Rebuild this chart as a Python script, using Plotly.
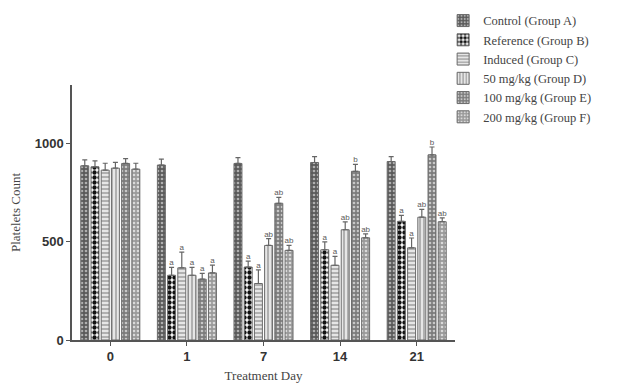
import plotly.graph_objects as go

days = ["0", "1", "7", "14", "21"]
groups = ["Control (Group A)", "Reference (Group B)", "Induced (Group C)",
          "50 mg/kg (Group D)", "100 mg/kg (Group E)", "200 mg/kg (Group F)"]

control = [888, 892, 900, 905, 910]
reference = [883, 330, 372, 460, 605]
induced = [866, 368, 288, 381, 470]
mg50 = [876, 330, 482, 562, 626]
mg100 = [900, 310, 697, 860, 944]
mg200 = [871, 342, 457, 521, 603]

err_control = [30, 30, 30, 30, 25]
err_reference = [30, 40, 30, 40, 30]
err_induced = [35, 80, 70, 45, 50]
err_mg50 = [30, 40, 35, 40, 40]
err_mg100 = [25, 30, 30, 35, 40]
err_mg200 = [30, 40, 25, 20, 20]

letters_control = ["", "", "", "", ""]
letters_reference = ["", "a", "a", "a", "a"]
letters_induced = ["", "a", "a", "a", "a"]
letters_mg50 = ["", "a", "ab", "ab", "ab"]
letters_mg100 = ["", "a", "ab", "b", "b"]
letters_mg200 = ["", "a", "ab", "ab", "ab"]

values = [control, reference, induced, mg50, mg100, mg200]
errors = [err_control, err_reference, err_induced, err_mg50, err_mg100, err_mg200]
letters = [letters_control, letters_reference, letters_induced, letters_mg50,
           letters_mg100, letters_mg200]

styles = [
    dict(shape=".", bgcolor="#5a5a5a", fgcolor="#b0b0b0", size=4, solidity=0.35),
    dict(shape=".", bgcolor="#ffffff", fgcolor="#111111", size=5, solidity=0.6),
    dict(shape="-", bgcolor="#b0b0b0", fgcolor="#f4f4f4", size=4, solidity=0.4),
    dict(shape="|", bgcolor="#b0b0b0", fgcolor="#f4f4f4", size=4, solidity=0.4),
    dict(shape=".", bgcolor="#7c7c7c", fgcolor="#c8c8c8", size=4, solidity=0.35),
    dict(shape=".", bgcolor="#9a9a9a", fgcolor="#dadada", size=4, solidity=0.35),
]

fig = go.Figure()
for i, g in enumerate(groups):
    st = styles[i]
    fig.add_trace(go.Bar(
        x=days, y=values[i], name=g, offsetgroup=str(i),
        marker=dict(color=st["bgcolor"], line=dict(color="#6a6a6a", width=1),
                    pattern=dict(shape=st["shape"], bgcolor=st["bgcolor"],
                                 fgcolor=st["fgcolor"], size=st["size"],
                                 solidity=st["solidity"], fillmode="replace")),
        error_y=dict(type="data", array=errors[i], arrayminus=[0]*5, symmetric=False,
                     color="#666666", thickness=1.2, width=2.5),
    ))
for i, g in enumerate(groups):
    fig.add_trace(go.Scatter(
        x=days, y=[v + e for v, e in zip(values[i], errors[i])], text=letters[i],
        mode="text", textposition="top center", offsetgroup=str(i),
        textfont=dict(family="Liberation Sans", size=8, color="#5a5a5a"),
        showlegend=False, cliponaxis=False, hoverinfo="skip",
    ))

# page body has an 8px margin, so the figure is sized to fit the 621x385 window
fig.update_layout(
    width=613, height=377,
    margin=dict(l=64, r=166, t=77, b=45, autoexpand=False),
    paper_bgcolor="white", plot_bgcolor="white",
    barmode="group", bargap=0.2, bargroupgap=0.22,
    scattermode="group", scattergap=0.2,
    font=dict(family="Liberation Serif", color="#333333"),
    legend=dict(x=0.969, xanchor="left", y=1.31, yanchor="top",
                font=dict(family="Liberation Serif", size=12.5, color="#444444"),
                tracegroupgap=0, bgcolor="rgba(0,0,0,0)"),
    showlegend=True,
)
fig.update_xaxes(
    automargin=False,
    showline=True, linecolor="#555555", linewidth=1.5,
    ticks="outside", ticklen=4, tickcolor="#555555",
    tickfont=dict(family="Liberation Sans", size=13, color="#333333", weight="bold"),
    title=dict(text="Treatment Day", font=dict(family="Liberation Serif", size=13, color="#444444"),
               standoff=8),
    showgrid=False, zeroline=False,
)
fig.update_yaxes(
    automargin=False,
    range=[0, 1300], tickvals=[0, 500, 1000],
    showline=True, linecolor="#555555", linewidth=1.5,
    ticks="outside", ticklen=4, tickcolor="#555555",
    tickfont=dict(family="Liberation Sans", size=13, color="#333333", weight="bold"),
    title=dict(text="Platelets Count", font=dict(family="Liberation Serif", size=13, color="#444444"),
               standoff=11),
    showgrid=False, zeroline=False,
)

fig.write_html("out.html")
